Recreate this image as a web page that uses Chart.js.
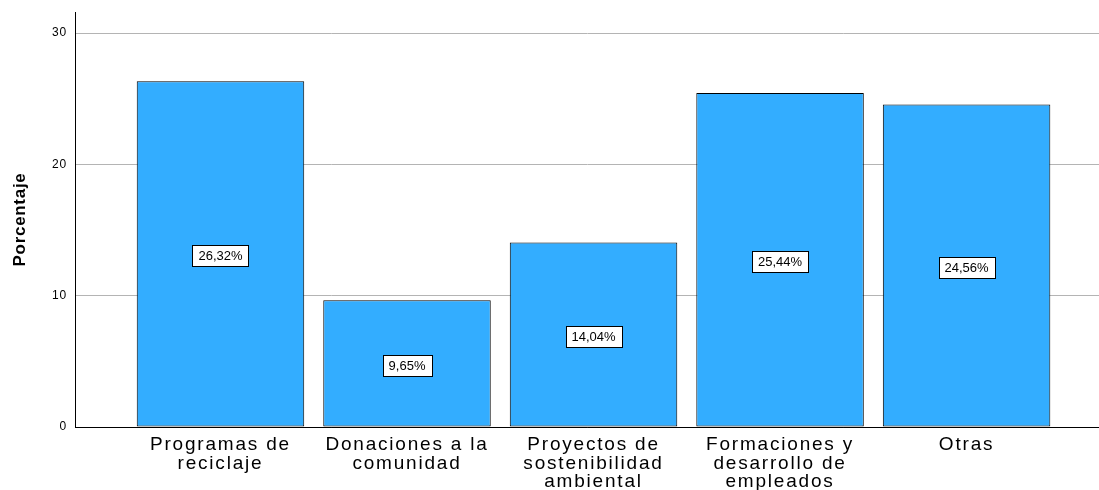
<!DOCTYPE html>
<html>
<head>
<meta charset="utf-8">
<script src="https://cdn.jsdelivr.net/npm/chart.js@4/dist/chart.umd.min.js"></script>
<style>
  html, body { margin: 0; padding: 0; background: #fff; }
  #wrap { width: 1099px; height: 490px; }
</style>
</head>
<body>
<div id="wrap"><canvas id="chart"></canvas></div>
<script>
const categories = [
  ['Programas de', 'reciclaje'],
  ['Donaciones a la', 'comunidad'],
  ['Proyectos de', 'sostenibilidad', 'ambiental'],
  ['Formaciones y', 'desarrollo de', 'empleados'],
  ['Otras']
];
const percentages = [26.32, 9.65, 14.04, 25.44, 24.56];
const yTicks = [0, 10, 20, 30];

const FONT = '"Liberation Sans", Arial, sans-serif';

// the reference text is drawn a bit wider than plain Arial
const spacing = {
  id: 'spacing',
  beforeDraw(chart) {
    const wrap = (scale, name, px) => {
      if (scale['_sp_' + name]) return;
      const orig = scale[name];
      scale[name] = function(area) {
        const c = this.ctx;
        c.save();
        c.letterSpacing = px;
        orig.call(this, area);
        c.restore();
      };
      scale['_sp_' + name] = true;
    };
    wrap(chart.scales.x, 'drawLabels', '1.8px');
    wrap(chart.scales.y, 'drawLabels', '0.8px');
    wrap(chart.scales.y, 'drawTitle', '0.7px');
  }
};

// labels drawn in the middle of each bar, in a white box
const boxLabels = {
  id: 'boxLabels',
  afterDatasetsDraw(chart) {
    const ctx = chart.ctx;
    const meta = chart.getDatasetMeta(0);
    ctx.save();
    ctx.font = '13px ' + FONT;
    ctx.textAlign = 'center';
    ctx.textBaseline = 'middle';
    meta.data.forEach((bar, i) => {
      const txt = percentages[i].toFixed(2).replace('.', ',') + '%';
      const w = Math.round(ctx.measureText(txt).width + 12);
      const h = 21;
      const cx = bar.x;
      const cy = (bar.y + bar.base) / 2 + 2;
      const left = Math.round(cx - w / 2) + 0.5;
      const top = Math.round(cy - h / 2) + 0.5;
      ctx.fillStyle = '#fff';
      ctx.fillRect(left, top, w, h);
      ctx.strokeStyle = '#000';
      ctx.lineWidth = 1;
      ctx.strokeRect(left, top, w, h);
      ctx.fillStyle = '#000';
      ctx.fillText(txt, cx, cy + 1);
    });
    ctx.restore();
  }
};

new Chart(document.getElementById('chart'), {
  type: 'bar',
  data: {
    datasets: [{
      data: percentages.map((v, i) => ({ x: i, y: v })),
      backgroundColor: '#33adff',
      borderColor: '#000',
      borderWidth: 1,
      borderSkipped: false,
      categoryPercentage: 1,
      barPercentage: 0.898
    }]
  },
  options: {
    responsive: true,
    maintainAspectRatio: false,
    animation: false,
    layout: { padding: { top: 12, right: 0, left: 0, bottom: 0 } },
    plugins: {
      legend: { display: false },
      tooltip: { enabled: false }
    },
    scales: {
      x: {
        type: 'linear',
        offset: false,
        min: -0.78,
        max: 4.71,
        afterBuildTicks: axis => { axis.ticks = categories.map((c, i) => ({ value: i })); },
        afterFit: axis => {
          axis.height = 63;
          axis.paddingLeft = 0;
          axis.paddingRight = 0;
        },
        grid: { display: false, drawTicks: false },
        border: { display: true, color: '#000', width: 1 },
        ticks: {
          autoSkip: false,
          maxRotation: 0,
          padding: 9,
          color: '#000',
          font: { family: FONT, size: 19, lineHeight: 0.97 },
          callback: (v) => categories[v]
        }
      },
      y: {
        min: 0,
        max: 31.6,
        afterBuildTicks: axis => { axis.ticks = yTicks.map(v => ({ value: v })); },
        afterFit: axis => {
          axis.width = 75;
          axis.paddingTop = 0;
          axis.paddingBottom = 0;
        },
        grid: {
          drawTicks: false,
          color: ctx => ctx.tick && ctx.tick.value === 0 ? '#000' : '#b4b4b4',
          lineWidth: 1
        },
        border: { display: true, color: '#000', width: 1 },
        ticks: {
          padding: 8,
          color: '#000',
          font: { family: FONT, size: 12 }
        },
        title: {
          display: true,
          text: 'Porcentaje',
          color: '#000',
          padding: { top: 10, bottom: 0 },
          font: { family: FONT, size: 17, weight: 'bold' }
        }
      }
    }
  },
  plugins: [spacing, boxLabels]
});
</script>
</body>
</html>
